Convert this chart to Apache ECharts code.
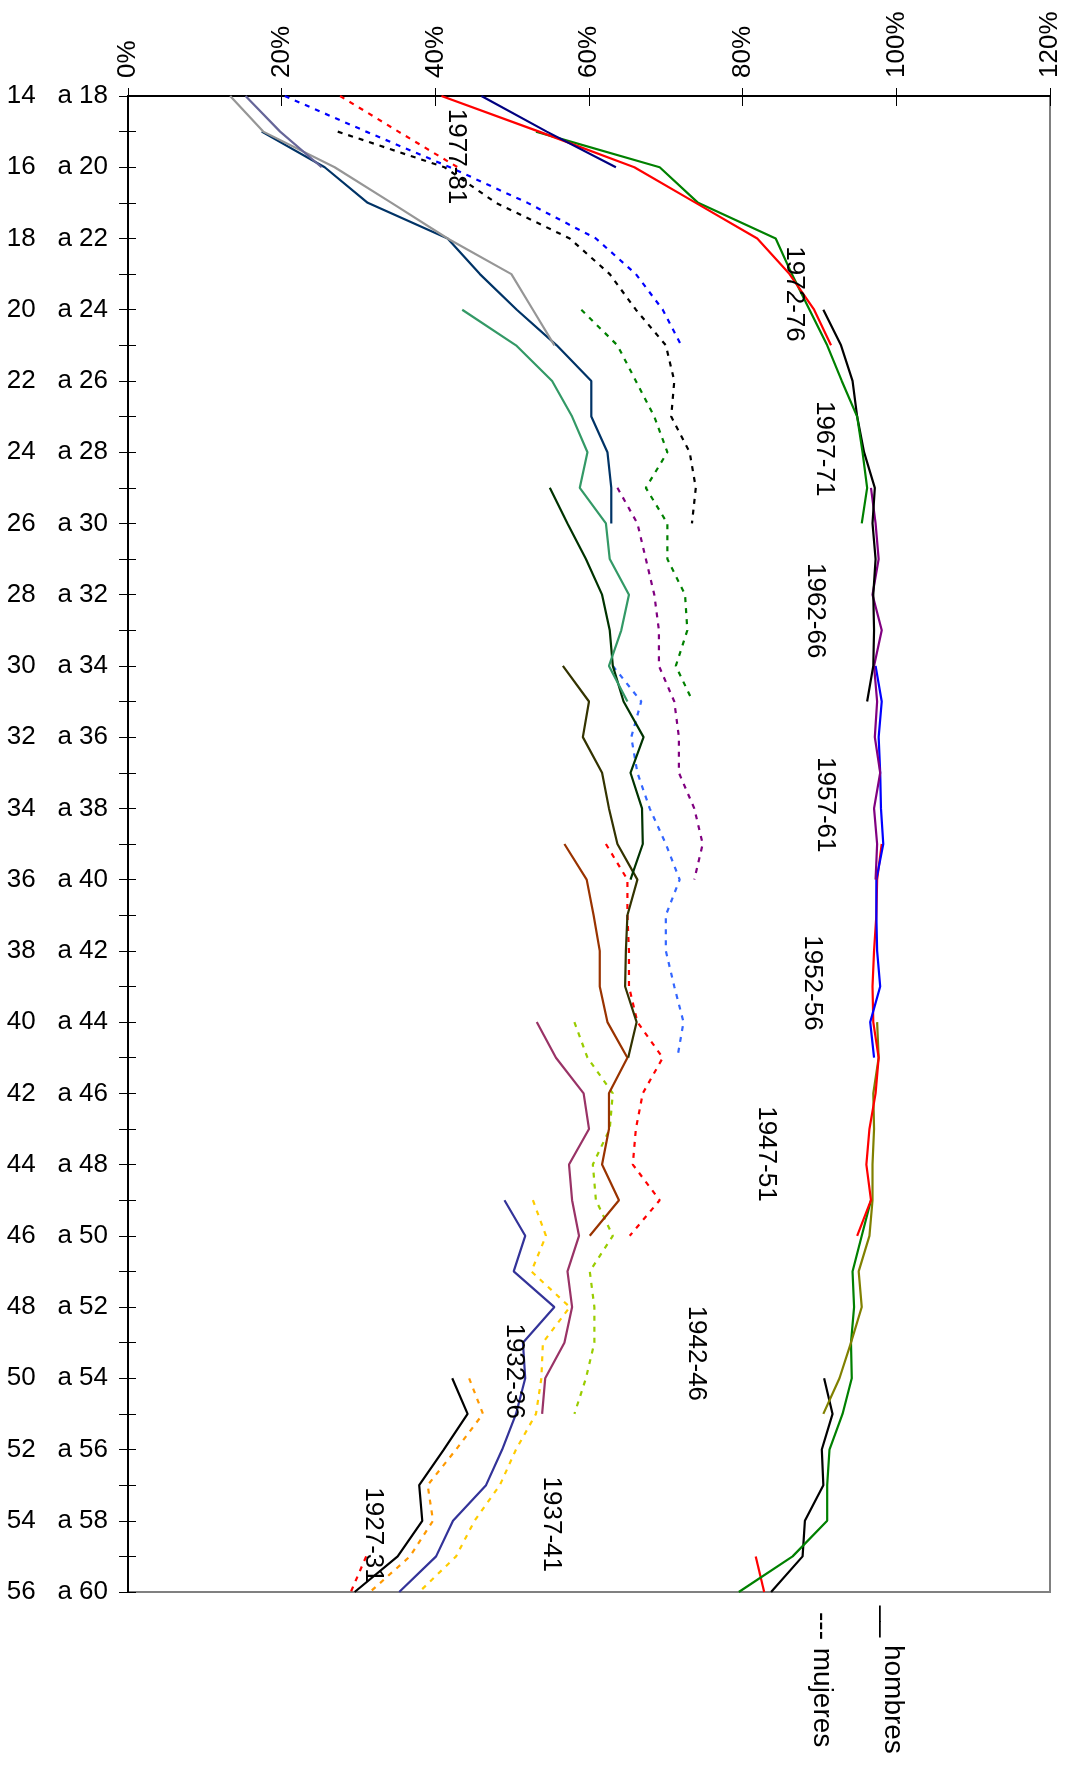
<!DOCTYPE html>
<html>
<head>
<meta charset="utf-8">
<script src="https://cdn.jsdelivr.net/npm/echarts@6/dist/echarts.min.js"></script>
<style>
  html, body { margin: 0; padding: 0; background: #ffffff; }
  #chart { width: 1073px; height: 1771px; }
</style>
</head>
<body>
<div id="chart"></div>
<script>
// ---------- Categories (age groups) ----------
const categories = [
  '14   a 18','15   a 19','16   a 20','17   a 21','18   a 22','19   a 23','20   a 24','21   a 25',
  '22   a 26','23   a 27','24   a 28','25   a 29','26   a 30','27   a 31','28   a 32','29   a 33',
  '30   a 34','31   a 35','32   a 36','33   a 37','34   a 38','35   a 39','36   a 40','37   a 41',
  '38   a 42','39   a 43','40   a 44','41   a 45','42   a 46','43   a 47','44   a 48','45   a 49',
  '46   a 50','47   a 51','48   a 52','49   a 53','50   a 54','51   a 55','52   a 56','53   a 57',
  '54   a 58','55   a 59','56   a 60'
];
const firstAge = 14;

// ---------- Cohorts ----------
const cohorts   = ['1927-31','1932-36','1937-41','1942-46','1947-51','1952-56','1957-61','1962-66','1967-71','1972-76','1977-81'];
const startAges = [55, 50, 45, 40, 35, 30, 25, 20, 15, 14, 14];

// ---------- Hombres (solid, upper) ----------
const hombres = [
  [81.7, 82.8],
  [90.6, 91.7, 90.3, 90.5, 88.1, 87.8, 83.7],
  [96.7, 95.5, 94.3, 94.5, 94.1, 94.2, 93.0, 91.3, 91.0, 91.0, 86.5, 79.5],
  [97.5, 97.7, 97.0, 97.1, 96.9, 96.9, 96.5, 95.1, 95.5, 94.1, 92.6, 90.5],
  [98.1, 97.5, 97.4, 97.1, 96.9, 97.0, 97.7, 97.3, 96.5, 96.1, 96.7, 94.9],
  [97.3, 98.1, 97.7, 97.9, 98.0, 98.3, 97.4, 97.4, 97.5, 97.9, 96.6, 97.1],
  [96.7, 97.3, 97.7, 96.9, 98.1, 97.1, 97.5, 97.2, 97.9, 97.1, 97.5, 97.3],
  [90.5, 92.8, 94.3, 94.9, 95.8, 97.2, 96.9, 97.3, 97.0, 97.1, 97.0, 96.2],
  [53.1, 69.2, 74.2, 84.3, 86.4, 88.7, 91.0, 92.9, 94.9, 95.6, 96.2, 95.5],
  [40.8, 53.5, 65.9, 73.9, 81.9, 86.1, 89.3, 91.5],
  [46.0, 54.5, 63.5]
];
const hombresColors = ['#FF0000','#000000','#008000','#808000','#FF0000','#0000FF','#800080','#000000','#008000','#FF0000','#000080'];

// ---------- Mujeres (dotted) ----------
const mujeres = [
  [31.0, 29.0],
  [44.4, 46.2, 42.7, 39.0, 39.7, 36.7, 31.5],
  [52.7, 54.4, 52.5, 57.5, 54.0, 53.8, 53.1, 50.5, 48.4, 45.1, 42.7, 37.9],
  [58.1, 59.8, 63.1, 62.7, 60.5, 60.9, 63.1, 60.1, 60.7, 60.7, 59.6, 58.1],
  [62.2, 65.0, 65.0, 65.2, 65.2, 66.3, 69.6, 67.0, 66.1, 65.7, 69.2, 65.3],
  [63.1, 66.8, 65.5, 66.3, 67.9, 70.0, 71.8, 70.0, 70.0, 71.1, 72.3, 71.5],
  [63.7, 66.3, 67.4, 68.5, 69.1, 69.1, 71.1, 71.7, 71.7, 73.7, 74.8, 73.7],
  [59.0, 63.7, 66.1, 68.5, 70.2, 67.4, 70.2, 70.2, 72.5, 72.8, 71.3, 73.5],
  [27.3, 41.2, 47.9, 57.5, 62.7, 66.1, 70.0, 71.1, 70.7, 73.1, 73.9, 73.4],
  [20.4, 31.0, 41.9, 52.0, 60.9, 66.1, 69.6, 72.0],
  [27.6, 35.2, 42.9]
];
const mujeresColors = ['#FF0000','#FF9900','#FFCC00','#99CC00','#FF0000','#3366FF','#800080','#008000','#000000','#0000FF','#FF0000'];

// ---------- Third group (solid, lower) ----------
const otros = [
  [],
  [42.2, 44.2, 41.1, 37.9, 38.3, 35.1, 29.5],
  [49.0, 51.7, 50.2, 55.5, 51.4, 51.7, 50.5, 48.7, 46.6, 42.3, 40.1, 35.3],
  [53.2, 55.7, 59.3, 60.0, 57.4, 57.8, 58.7, 57.2, 57.8, 56.8, 54.3, 53.9],
  [56.8, 59.7, 60.6, 61.4, 61.4, 62.4, 65.0, 62.6, 62.6, 61.7, 63.9, 60.1],
  [56.6, 60.0, 59.2, 61.7, 62.6, 63.7, 66.3, 65.0, 64.8, 64.7, 66.2, 65.1],
  [54.9, 57.2, 59.6, 61.7, 62.7, 63.1, 64.5, 67.1, 65.4, 66.9, 67.0, 65.4],
  [43.5, 50.5, 55.2, 57.8, 59.8, 58.8, 62.2, 62.7, 65.2, 64.2, 62.6, 65.0],
  [17.4, 25.6, 31.2, 41.6, 45.8, 50.6, 55.8, 60.3, 60.3, 62.4, 62.9, 62.9],
  [13.3, 17.6, 26.9, 34.3, 41.6, 49.9, 52.7, 55.5],
  [15.3, 19.8, 25.2]
];
const otrosColors = ['#000000','#000000','#333399','#993366','#993300','#333300','#003300','#339966','#003366','#969696','#666699'];

// ---------- Cohort label anchors (value %, age) ----------
const labelValues = [31.9, 50.3, 55.1, 73.9, 83.0, 89.1, 90.8, 89.5, 90.6, 86.7, 42.7];
const labelAges   = [54.4, 49.8, 54.1, 49.3, 43.7, 38.9, 33.9, 28.45, 23.9, 19.56, 15.7];

// ---------- Axis ----------
const xMin = 0, xMax = 120, xStep = 20;

const FONT = '"Liberation Sans", Arial, sans-serif';

function toData(start, vals) {
  return vals.map((v, i) => [v, categories[start - firstAge + i]]);
}

const series = [];
cohorts.forEach((c, k) => {
  if (otros[k].length) {
    series.push({
      name: c + ' otros', type: 'line', xAxisIndex: 0, yAxisIndex: 0,
      data: toData(startAges[k], otros[k]), symbol: 'none',
      lineStyle: { color: otrosColors[k], width: 2.2 }, animation: false, z: 3
    });
  }
  series.push({
    name: c + ' mujeres', type: 'line', xAxisIndex: 0, yAxisIndex: 0,
    data: toData(startAges[k], mujeres[k]), symbol: 'none',
    lineStyle: { color: mujeresColors[k], width: 2.2, type: [5, 6] }, animation: false, z: 3
  });
  series.push({
    name: c + ' hombres', type: 'line', xAxisIndex: 0, yAxisIndex: 0,
    data: toData(startAges[k], hombres[k]), symbol: 'none',
    lineStyle: { color: hombresColors[k], width: 2.2 }, animation: false, z: 3
  });
});

series.push({
  name: 'labels', type: 'scatter', xAxisIndex: 0, yAxisIndex: 2,
  symbol: 'circle', symbolSize: 2, itemStyle: { color: 'rgba(0,0,0,0)' }, silent: true, animation: false, z: 10,
  data: cohorts.map((c, k) => ({ name: c, value: [labelValues[k], labelAges[k]] })),
  label: {
    show: true, position: 'inside', rotate: -90, formatter: p => p.name,
    fontSize: 26, color: '#000', fontFamily: FONT, textBorderWidth: 0, opacity: 1
  },
  labelLayout: { hideOverlap: false }
});

const chart = echarts.init(document.getElementById('chart'), null, { renderer: 'canvas' });
chart.setOption({
  backgroundColor: '#ffffff',
  animation: false,
  grid: {
    left: 128, right: 23, top: 96, bottom: 179,
    show: true, borderColor: '#808080', borderWidth: 2, backgroundColor: 'transparent'
  },
  xAxis: [
    {
      type: 'value', position: 'top', min: xMin, max: xMax, interval: xStep,
      axisLine: { show: true, lineStyle: { color: '#000', width: 2 } },
      axisTick: { show: true, inside: false, length: 8, lineStyle: { color: '#000', width: 1 } },
      axisLabel: { rotate: -90, formatter: '{value}%', fontSize: 26, color: '#000', margin: 18, fontFamily: FONT },
      splitLine: { show: false }
    },
    {
      type: 'value', position: 'top', min: xMin, max: xMax, interval: xStep,
      axisLine: { show: false },
      axisTick: { show: true, inside: true, length: 10, lineStyle: { color: '#000', width: 1 } },
      axisLabel: { show: false },
      splitLine: { show: false }
    }
  ],
  yAxis: [
    {
      type: 'category', data: categories, inverse: true, boundaryGap: false, position: 'left',
      axisLine: { show: true, lineStyle: { color: '#000', width: 2 } },
      axisTick: { show: true, interval: 0, inside: false, length: 9, lineStyle: { color: '#000', width: 1 } },
      axisLabel: { interval: 1, fontSize: 26, color: '#000', margin: 20, fontFamily: FONT },
      splitLine: { show: false }
    },
    {
      type: 'category', data: categories, inverse: true, boundaryGap: false, position: 'left', offset: 0,
      axisLine: { show: false },
      axisTick: { show: true, interval: 0, inside: true, length: 8, lineStyle: { color: '#000', width: 1 } },
      axisLabel: { show: false },
      splitLine: { show: false }
    },
    {
      type: 'value', min: firstAge, max: 56, inverse: true, position: 'left',
      axisLine: { show: false }, axisTick: { show: false }, axisLabel: { show: false },
      splitLine: { show: false }
    }
  ],
  graphic: [
    {
      type: 'text', x: 893, y: 1606, rotation: -Math.PI / 2,
      style: { text: '__ hombres', fontSize: 28, fontFamily: FONT, fill: '#000', align: 'left', verticalAlign: 'middle' }
    },
    {
      type: 'text', x: 822, y: 1612, rotation: -Math.PI / 2,
      style: { text: '--- mujeres', fontSize: 28, fontFamily: FONT, fill: '#000', align: 'left', verticalAlign: 'middle' }
    }
  ],
  series: series
});
</script>
</body>
</html>
